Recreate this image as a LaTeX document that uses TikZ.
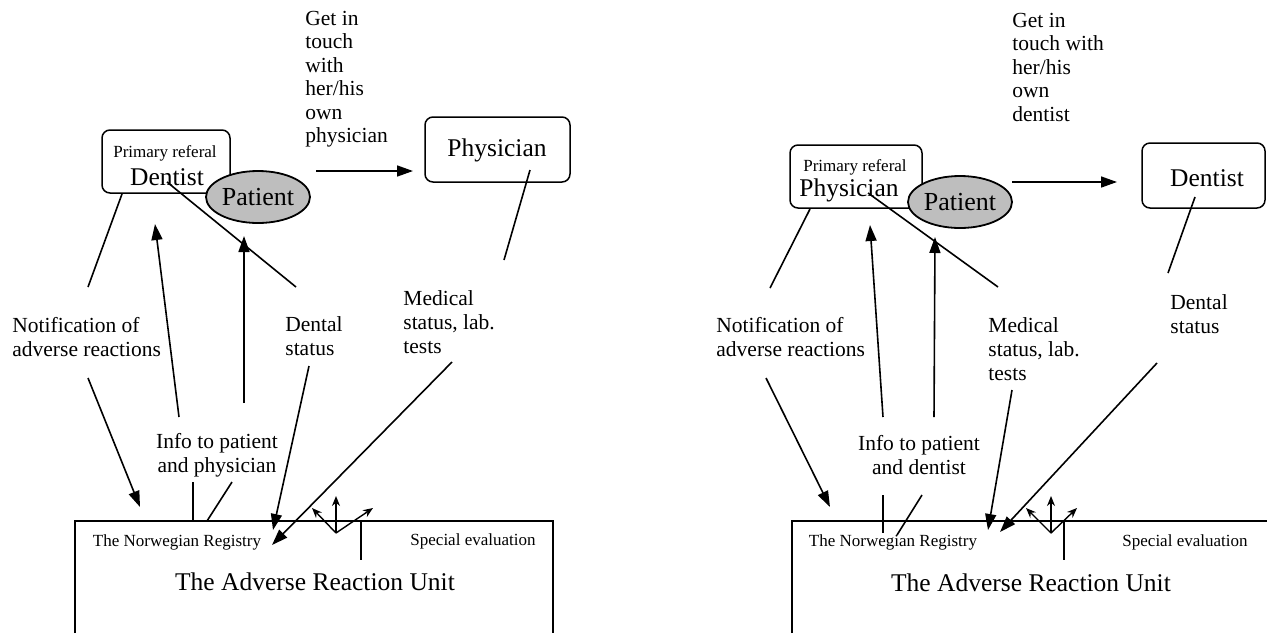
\documentclass[tikz,border=0pt]{standalone}
\usepackage{fontspec}
\setmainfont{Liberation Serif}
\usetikzlibrary{shapes.geometric,arrows.meta}
\definecolor{relleno}{HTML}{BEBEBE}

\begin{document}
\begin{tikzpicture}[x=0.5pt,y=-0.5pt,
   caja/.style={draw,rounded corners=4pt,line width=0.75pt,inner sep=0pt},
   paciente/.style={draw,ellipse,fill=relleno,line width=0.9pt,minimum width=52pt,minimum height=26pt,inner sep=0pt,font=\fontsize{13}{15}\selectfont},
   rotulo/.style={align=left,inner sep=0pt,font=\fontsize{10.75}{12}\selectfont},
   alto/.style={align=left,inner sep=0pt,font=\fontsize{10.75}{11.75}\selectfont},
   chico/.style={inner sep=0pt,font=\fontsize{8.5}{10}\selectfont},
   grande/.style={inner sep=0pt,font=\fontsize{12.75}{14}\selectfont},
   linea/.style={line width=0.8pt},
   flecha/.style={line width=0.8pt,-{Triangle[length=8pt,width=5.5pt]}},
   flechita/.style={line width=0.7pt,-{Stealth[length=5pt,width=4pt]}}]

  \useasboundingbox (0,0) rectangle (1267,633);

  % ================= panel izquierdo =================
  \node[caja,minimum width=64pt,minimum height=31.5pt] (dentL) at (166,161.5) {};
  \node[chico]  (primL) at (165,153) {Primary referal};
  \node[grande] (nomL)  at (167,177) {Dentist};
  \node[paciente] (patL) at (258,197) {Patient};
  \node[caja,minimum width=72.5pt,minimum height=32.5pt] (physL) at (497.5,149.5) {};
  \node[grande] (nomphysL) at (497,150) {Physician};

  \node[alto,anchor=west]   (getL)    at (305,79)  {Get in\\touch\\with\\her/his\\own\\physician};
  \node[rotulo,anchor=west] (notifL)  at (12,337)  {Notification of\\adverse reactions};
  \node[rotulo,anchor=west] (dentalL) at (285,336) {Dental\\status};
  \node[rotulo,anchor=west] (medL)    at (403,322) {Medical\\status, lab.\\tests};
  \node[rotulo,align=center] (infoL)  at (217,455) {Info to patient\\and physician};

  % unidad
  \coordinate (uL1) at (75,633);  \coordinate (uL2) at (75,521);
  \coordinate (uL3) at (553,521); \coordinate (uL4) at (553,633);
  \draw[line width=0.85pt] (uL1) -- (uL2) -- (uL3) -- (uL4);
  \node[chico]  (regL)  at (177,542) {The Norwegian Registry};
  \node[grande] (unitL) at (315,582) {The Adverse Reaction Unit};
  \node[chico]  (specL) at (473,541) {Special evaluation};

  % conectores
  \coordinate (a1) at (316,171);  \coordinate (a2) at (413,171);
  \draw[flecha] (a1) -- (a2);
  \coordinate (b1) at (122,194);  \coordinate (b2) at (88,287);
  \draw[linea] (b1) -- (b2);
  \coordinate (b3) at (88,378);   \coordinate (b4) at (140,507);
  \draw[flecha] (b3) -- (b4);
  \coordinate (c1) at (179,417);  \coordinate (c2) at (155,224);
  \draw[flecha] (c1) -- (c2);
  \coordinate (c3) at (244,403);  \coordinate (c4) at (244,236);
  \draw[flecha] (c3) -- (c4);
  \coordinate (d1) at (167,182);  \coordinate (d2) at (296,287);
  \draw[linea] (d1) -- (d2);
  \coordinate (d3) at (309,366);  \coordinate (d4) at (273,530);
  \draw[flecha] (d3) -- (d4);
  \coordinate (e1) at (530,170);  \coordinate (e2) at (504,260);
  \draw[linea] (e1) -- (e2);
  \coordinate (e3) at (452,362);  \coordinate (e4) at (272,545);
  \draw[flecha] (e3) -- (e4);
  \coordinate (f1) at (193,482);  \coordinate (f2) at (193,521);
  \draw[linea] (f1) -- (f2);
  \coordinate (f3) at (232,482);  \coordinate (f4) at (207,521);
  \draw[linea] (f3) -- (f4);
  \coordinate (g1) at (361,521);  \coordinate (g2) at (361,560);
  \draw[linea] (g1) -- (g2);
  \coordinate (vL) at (336,533);
  \foreach \p in {(312,508),(336,496),(373,508)}
    \draw[flechita] (vL) -- \p;

  % ================= panel derecho =================
  \node[caja,minimum width=66pt,minimum height=31.5pt] (physR) at (856,176.5) {};
  \node[chico]  (primR) at (855,167) {Primary referal};
  \node[grande] (nomR)  at (849,190) {Physician};
  \node[paciente] (patR) at (960,202) {Patient};
  \node[caja,minimum width=61.5pt,minimum height=32.5pt] (dentR) at (1203.5,175.5) {};
  \node[grande] (nomdentR) at (1207,178) {Dentist};

  \node[alto,anchor=west]   (getR)    at (1012,67)  {Get in\\touch with\\her/his\\own\\dentist};
  \node[rotulo,anchor=west] (notifR)  at (716,337)  {Notification of\\adverse reactions};
  \node[rotulo,anchor=west] (dentalR) at (1170,314) {Dental\\status};
  \node[rotulo,anchor=west] (medR)    at (988,349)  {Medical\\status, lab.\\tests};
  \node[rotulo,align=center] (infoR)  at (919,455)  {Info to patient\\and dentist};

  % unidad
  \coordinate (uR1) at (792,633); \coordinate (uR2) at (792,521);
  \coordinate (uR3) at (1267,521);
  \draw[line width=0.85pt] (uR1) -- (uR2) -- (uR3);
  \node[chico]  (regR)  at (893,542)  {The Norwegian Registry};
  \node[grande] (unitR) at (1031,583) {The Adverse Reaction Unit};
  \node[chico]  (specR) at (1185,542) {Special evaluation};

  % conectores
  \coordinate (h1) at (1012,182); \coordinate (h2) at (1117,182);
  \draw[flecha] (h1) -- (h2);
  \coordinate (i1) at (810,209);  \coordinate (i2) at (770,288);
  \draw[linea] (i1) -- (i2);
  \coordinate (i3) at (766,378);  \coordinate (i4) at (830,507);
  \draw[flecha] (i3) -- (i4);
  \coordinate (j1) at (883,417);  \coordinate (j2) at (870,225);
  \draw[flecha] (j1) -- (j2);
  \coordinate (j3) at (934,417);  \coordinate (j4) at (935,237);
  \draw[flecha] (j3) -- (j4);
  \coordinate (k1) at (868,193);  \coordinate (k2) at (998,287);
  \draw[linea] (k1) -- (k2);
  \coordinate (k3) at (1012,390); \coordinate (k4) at (988,530);
  \draw[flecha] (k3) -- (k4);
  \coordinate (m1) at (1195,197); \coordinate (m2) at (1168,273);
  \draw[linea] (m1) -- (m2);
  \coordinate (m3) at (1157,363); \coordinate (m4) at (1000,532);
  \draw[flecha] (m3) -- (m4);
  \coordinate (n1) at (883,495);  \coordinate (n2) at (883,533);
  \draw[linea] (n1) -- (n2);
  \coordinate (n3) at (922,495);  \coordinate (n4) at (897,535);
  \draw[linea] (n3) -- (n4);
  \coordinate (o1) at (1064,521); \coordinate (o2) at (1064,560);
  \draw[linea] (o1) -- (o2);
  \coordinate (vR) at (1051,533);
  \foreach \p in {(1026,508),(1051,496),(1077,508)}
    \draw[flechita] (vR) -- \p;
\end{tikzpicture}
\end{document}
